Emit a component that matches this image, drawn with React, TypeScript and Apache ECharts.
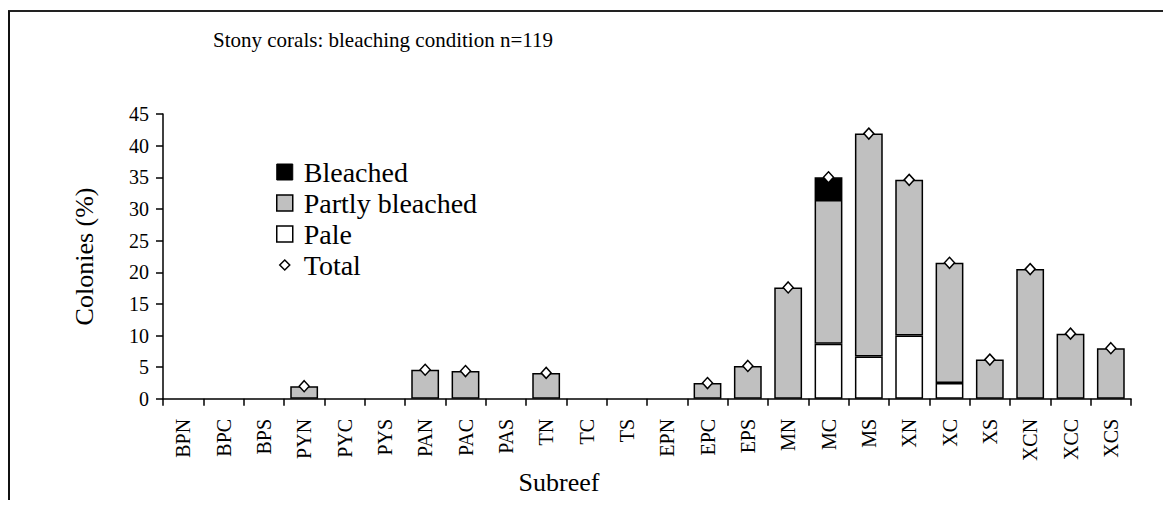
import React, { useEffect, useRef } from "react";
import * as echarts from "echarts";

const categories = ["BPN","BPC","BPS","PYN","PYC","PYS","PAN","PAC","PAS","TN","TC","TS","EPN","EPC","EPS","MN","MC","MS","XN","XC","XS","XCN","XCC","XCS"];
const pale =     [null,null,null,null,null,null,null,null,null,null,null,null,null,null,null,null,8.7,6.7,10.0,2.5,null,null,null,null];
const partly =   [null,null,null,2.0,null,null,4.6,4.4,null,4.1,null,null,null,2.5,5.2,17.6,22.7,35.2,24.6,19.0,6.2,20.5,10.3,8.0];
const bleached = [null,null,null,null,null,null,null,null,null,null,null,null,null,null,null,null,3.6,null,null,null,null,null,null,null];
const total =    [null,null,null,2.0,null,null,4.6,4.4,null,4.1,null,null,null,2.5,5.2,17.6,35.0,41.9,34.6,21.5,6.2,20.5,10.3,8.0];
const yTicks = { min: 0, max: 45, interval: 5 };
const titleText = "Stony corals: bleaching condition n=119";

const FONT = "Liberation Serif, Times New Roman, serif";

export default function App() {
  const ref = useRef<HTMLDivElement>(null);
  useEffect(() => {
    if (!ref.current) return;
    const chart = echarts.init(ref.current, null, { renderer: "svg" });
    const diamondIcon = "path://M0,0M16,16M8,3L13,8L8,13L3,8Z";
    chart.setOption({
      animation: false,
      backgroundColor: "#fff",
      textStyle: { fontFamily: FONT, color: "#000" },
      title: {
        text: titleText,
        left: 205,
        top: 21,
        padding: 0,
        textStyle: { fontFamily: FONT, fontSize: 21, fontWeight: "normal", color: "#000" },
      },
      legend: {
        orient: "vertical",
        left: 268,
        top: 150,
        padding: 0,
        itemWidth: 16,
        itemHeight: 16,
        itemGap: 3,
        textStyle: { fontFamily: FONT, fontSize: 28, color: "#000", lineHeight: 28, padding: [0, 0, 0, 6] },
        data: [
          { name: "Bleached", icon: "rect", itemStyle: { color: "#000", borderColor: "#000", borderWidth: 1 } },
          { name: "Partly bleached", icon: "rect", itemStyle: { color: "#c0c0c0", borderColor: "#000", borderWidth: 1.5 } },
          { name: "Pale", icon: "rect", itemStyle: { color: "#fff", borderColor: "#000", borderWidth: 1.5 } },
          { name: "Total", icon: diamondIcon, itemStyle: { color: "#fff", borderColor: "#000", borderWidth: 1.5 } },
        ],
      },
      graphic: [
        { type: "line", shape: { x1: 0, y1: 3, x2: 1200, y2: 3 }, style: { stroke: "#222", lineWidth: 2 } },
        { type: "line", shape: { x1: 1, y1: 3, x2: 1, y2: 600 }, style: { stroke: "#111", lineWidth: 2 } },
      ],
      grid: { left: 155, top: 106, right: 32, bottom: 87, containLabel: false },
      xAxis: {
        type: "category",
        data: categories,
        name: "Subreef",
        nameLocation: "middle",
        nameGap: 66,
        nameTextStyle: { fontFamily: FONT, fontSize: 26, color: "#000", padding: [0, 176, 0, 0] },
        axisLine: { lineStyle: { color: "#000", width: 1.5 } },
        axisTick: { show: true, length: 7, lineStyle: { color: "#000", width: 1.5 } },
        axisLabel: { rotate: 90, margin: 20, fontFamily: FONT, fontSize: 20, color: "#000", interval: 0 },
        splitLine: { show: false },
      },
      yAxis: {
        type: "value",
        min: yTicks.min,
        max: yTicks.max,
        interval: yTicks.interval,
        name: "Colonies (%)",
        nameLocation: "middle",
        nameGap: 66,
        nameTextStyle: { fontFamily: FONT, fontSize: 26, color: "#000" },
        axisLine: { show: true, lineStyle: { color: "#000", width: 1.5 } },
        axisTick: { show: true, length: 7, lineStyle: { color: "#000", width: 1.5 } },
        axisLabel: { margin: 14, fontFamily: FONT, fontSize: 20, color: "#000" },
        splitLine: { show: false },
      },
      series: [
        {
          name: "Pale", type: "bar", stack: "s", data: pale, barCategoryGap: "31%",
          itemStyle: { color: "#fff", borderColor: "#000", borderWidth: 1.5 },
        },
        {
          name: "Partly bleached", type: "bar", stack: "s", data: partly,
          itemStyle: { color: "#c0c0c0", borderColor: "#000", borderWidth: 1.5 },
        },
        {
          name: "Bleached", type: "bar", stack: "s", data: bleached,
          itemStyle: { color: "#000", borderColor: "#000", borderWidth: 1.5 },
        },
        {
          name: "Total", type: "scatter", data: total, symbol: "diamond", symbolSize: [10, 11], z: 5,
          itemStyle: { color: "#fff", borderColor: "#000", borderWidth: 1.5, opacity: 1 },
        },
      ],
    });
    return () => chart.dispose();
  }, []);
  return <div ref={ref} style={{ width: 1155, height: 492 }} />;
}
